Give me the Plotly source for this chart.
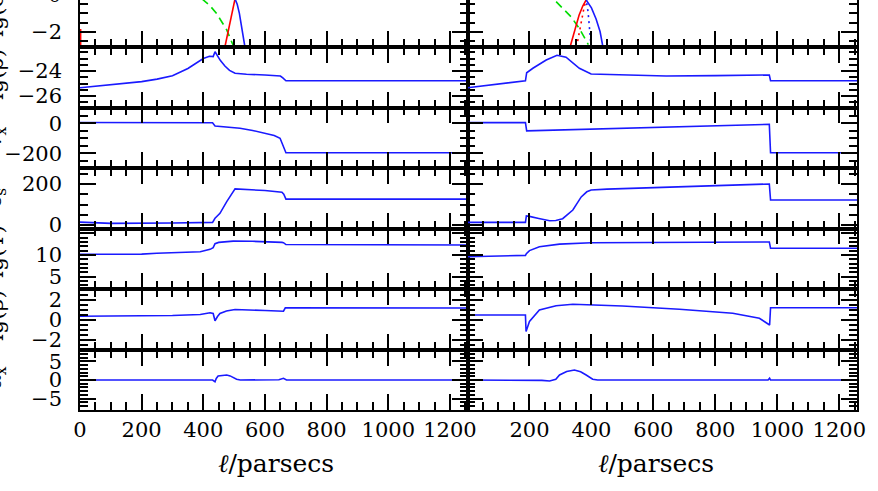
import plotly.graph_objects as go

# ---------------- data (x in parsecs) ----------------
# Left column
L_rho_x = [0, 100, 200, 250, 300, 350, 380, 400, 420, 432, 438, 446, 455, 470, 485, 503, 540, 600, 650, 658, 668, 1257]
L_rho_y = [-25.34, -25.1, -24.85, -24.65, -24.38, -23.8, -23.35, -23.0, -22.82, -22.85, -22.46, -22.8, -23.15, -23.6, -23.95, -24.18, -24.26, -24.32, -24.4, -24.55, -24.78, -24.78]

L_vx_x = [0, 430, 438, 519, 560, 605, 630, 649, 660, 668, 1257]
L_vx_y = [5, 3, -18, -33, -48, -67, -82, -100, -156, -196, -196]

L_cs_x = [0, 50, 100, 300, 430, 438, 454, 476, 503, 600, 655, 661, 668, 1257]
L_cs_y = [14, 10, 8, 10, 13, 33, 57, 114, 176, 168, 160, 150, 126, 126]

L_T_x = [0, 200, 249, 390, 422, 432, 438, 450, 497, 560, 655, 660, 668, 1257]
L_T_y = [10.16, 10.2, 10.4, 10.76, 11.3, 11.7, 12.6, 12.9, 13.2, 13.15, 12.9, 12.84, 12.4, 12.3]

L_B_x = [0, 300, 390, 422, 432, 438, 446, 454, 475, 503, 600, 660, 666, 1257]
L_B_y = [0.38, 0.45, 0.55, 0.72, 0.65, -0.08, 0.35, 0.65, 0.9, 1.05, 0.95, 0.88, 1.22, 1.2]

L_ax_x = [0, 430, 438, 442, 448, 476, 487, 500, 508, 520, 645, 660, 670, 1257]
L_ax_y = [0, 0, -0.45, 0.4, 1.07, 1.34, 1.1, 0.6, 0.2, 0.0, 0.05, 0.45, 0.0, 0.0]

L_top_green_x = [395, 420, 443, 476, 497]
L_top_green_y = [-0.2, -0.55, -1.0, -1.9, -2.75]
L_top_red_x = [470, 486, 503]
L_top_red_y = [-2.83, -1.5, -0.2]
L_top_red0_x = [2, 2]
L_top_red0_y = [-2.83, -1.85]
L_top_blue_x = [500, 510, 517, 526, 533, 535]
L_top_blue_y = [-0.1, -0.5, -1.0, -1.9, -2.7, -2.83]

# Right column
R_rho_x = [0, 100, 187, 191, 211, 254, 289, 318, 361, 399, 500, 641, 800, 974, 978, 1257]
R_rho_y = [-25.34, -25.05, -24.78, -24.14, -23.78, -23.12, -22.74, -22.9, -23.78, -24.24, -24.3, -24.4, -24.37, -24.32, -24.78, -24.78]

R_vx_x = [0, 187, 191, 400, 600, 800, 974, 978, 1257]
R_vx_y = [4, 4, -51, -40, -29, -18, -7, -196, -196]

R_cs_x = [0, 187, 190, 200, 230, 265, 285, 307, 340, 367, 385, 399, 450, 600, 800, 974, 978, 1257]
R_cs_y = [13, 13, 44, 42, 32, 21, 22, 31, 73, 137, 162, 171, 175, 183, 193, 200, 122, 122]

R_T_x = [0, 187, 190, 200, 232, 297, 399, 700, 974, 978, 1257]
R_T_y = [9.6, 9.9, 10.3, 11.0, 11.9, 12.5, 12.8, 12.9, 13.0, 11.55, 11.55]

R_B_x = [0, 187, 189, 200, 232, 286, 340, 399, 500, 684, 856, 942, 969, 975, 978, 1257]
R_B_y = [0.5, 0.5, -1.15, -0.15, 1.0, 1.43, 1.57, 1.5, 1.4, 1.07, 0.67, 0.17, -0.4, -0.5, 1.23, 1.23]

R_ax_x = [0, 200, 211, 240, 265, 285, 297, 320, 345, 365, 383, 404, 420, 970, 975, 978, 1257]
R_ax_y = [0, 0, 0.1, -0.1, -0.27, 0.2, 1.34, 2.3, 2.68, 2.2, 1.34, 0.2, 0.0, 0.0, 0.5, 0.0, 0.0]

R_top_green_x = [286, 310, 334, 360, 383, 390]
R_top_green_y = [-0.36, -0.75, -1.18, -1.8, -2.45, -2.7]
R_top_red_x = [331, 345, 360, 372, 385]
R_top_red_y = [-2.83, -2.0, -1.1, -0.6, -0.2]
R_top_reddot_x = [352, 362, 377, 386]
R_top_reddot_y = [-2.83, -1.9, -0.6, -0.2]
R_top_bluedot_x = [399, 395, 389, 383]
R_top_bluedot_y = [-2.83, -1.9, -0.9, -0.3]
R_top_blue_x = [383, 400, 415, 428, 437]
R_top_blue_y = [-0.27, -0.7, -1.3, -2.0, -2.83]

x_tick_vals = [0, 200, 400, 600, 800, 1000, 1200]
x_tick_text_left = ["0", "200", "400", "600", "800", "1000", "1200"]
x_tick_text_right = ["", "200", "400", "600", "800", "1000", "1200"]

row_labels = ["lg(e)", "lg(ρ)", "v<sub>x</sub>", "c<sub>s</sub>", "lg(T)", "lg(β)", "α<sub>x</sub>"]
y_tick_vals = [[-2], [-26, -24], [-200, 0], [0, 200], [5, 10, 15], [-2, 0, 2], [-5, 0, 5]]
y_tick_text = [["−2"], ["−26", "−24"], ["−200", "0"], ["0", "200"], ["5", "10", " "], ["−2", "0", "2"], ["−5", "0", "5"]]
y_minor = [0.5, 0.5, 50, 50, 1, 0.5, 1]

# ---------------- layout geometry ----------------
W, H = 878, 491
ML, MR, MT, MB = 80, 21, 0, 81
PW, PH = W - ML - MR, H - MT - MB
row_edges_px = [0, 47, 107.5, 168, 228.5, 289, 350, 410]
col_split_px = 467.5
y_ranges = [[-2.83, -0.27], [-26.92, -22.08], [-298, 105], [-17, 278], [2.16, 16.1], [-3.0, 3.1], [-8.04, 8.04]]
x_range = [0, 1257]

def yfrac(px):
    return (PH - px) / PH

col_dom = [[0.0, (col_split_px - ML) / PW], [(col_split_px - ML) / PW, 1.0]]

BLUE = "#1a1aff"
RED = "#ff0000"
GREEN = "#00dd00"
FONT = "DejaVu Serif"

fig = go.Figure()

series = {
    (0, 1): [(L_rho_x, L_rho_y)], (1, 1): [(R_rho_x, R_rho_y)],
    (0, 2): [(L_vx_x, L_vx_y)], (1, 2): [(R_vx_x, R_vx_y)],
    (0, 3): [(L_cs_x, L_cs_y)], (1, 3): [(R_cs_x, R_cs_y)],
    (0, 4): [(L_T_x, L_T_y)], (1, 4): [(R_T_x, R_T_y)],
    (0, 5): [(L_B_x, L_B_y)], (1, 5): [(R_B_x, R_B_y)],
    (0, 6): [(L_ax_x, L_ax_y)], (1, 6): [(R_ax_x, R_ax_y)],
}

def axn(row, col):
    return row * 2 + col + 1

def add(row, col, x, y, color, dash="solid", width=1.6):
    n = axn(row, col)
    fig.add_trace(go.Scatter(x=x, y=y, mode="lines",
                             line=dict(color=color, width=width, dash=dash),
                             xaxis="x" + ("" if n == 1 else str(n)),
                             yaxis="y" + ("" if n == 1 else str(n)),
                             showlegend=False, hoverinfo="skip", cliponaxis=True))

for (col, row), lst in series.items():
    for x, y in lst:
        add(row, col, x, y, BLUE)

# top row lines
add(0, 0, L_top_green_x, L_top_green_y, GREEN, dash="8px,5px")
add(0, 0, L_top_red_x, L_top_red_y, RED)
add(0, 0, L_top_red0_x, L_top_red0_y, RED)
add(0, 0, L_top_blue_x, L_top_blue_y, BLUE)
add(0, 1, R_top_green_x, R_top_green_y, GREEN, dash="8px,5px")
add(0, 1, R_top_red_x, R_top_red_y, RED)
add(0, 1, R_top_reddot_x, R_top_reddot_y, RED, dash="2px,4px")
add(0, 1, R_top_bluedot_x, R_top_bluedot_y, BLUE, dash="2px,4px")
add(0, 1, R_top_blue_x, R_top_blue_y, BLUE)

layout = dict(width=W, height=H, margin=dict(l=ML, r=MR, t=MT, b=MB, autoexpand=False),
              paper_bgcolor="white", plot_bgcolor="white", showlegend=False,
              font=dict(family=FONT, size=21, color="black"))

for row in range(7):
    for col in range(2):
        n = axn(row, col)
        xs = "xaxis" + ("" if n == 1 else str(n))
        ys = "yaxis" + ("" if n == 1 else str(n))
        bottom = row == 6
        layout[xs] = dict(
            domain=col_dom[col], anchor="y" + ("" if n == 1 else str(n)),
            range=x_range, showgrid=False, zeroline=False, automargin=False,
            showline=True, linecolor="black", linewidth=1.6,
            mirror=("allticks" if row > 0 else False),
            ticks="inside", ticklen=16, tickwidth=1.5, tickcolor="black",
            tickmode="array", tickvals=x_tick_vals,
            ticktext=(x_tick_text_left if col == 0 else x_tick_text_right),
            showticklabels=bottom, ticklabelstandoff=0,
            tickfont=dict(family=FONT, size=21),
            minor=dict(dtick=50, tick0=0, ticks="inside", ticklen=8, tickwidth=1.5, tickcolor="black"),
        )
        layout[ys] = dict(
            domain=[yfrac(row_edges_px[row + 1]), yfrac(row_edges_px[row])],
            anchor="x" + ("" if n == 1 else str(n)),
            range=y_ranges[row], showgrid=False, zeroline=False, automargin=False,
            showline=True, linecolor="black", linewidth=1.6, mirror="allticks",
            ticks="inside", ticklen=16, tickwidth=1.5, tickcolor="black",
            tickmode="array", tickvals=y_tick_vals[row], ticktext=y_tick_text[row],
            showticklabels=(col == 0), ticklabelstandoff=12,
            tickfont=dict(family=FONT, size=21),
            minor=dict(dtick=y_minor[row], tick0=0, ticks="inside", ticklen=8, tickwidth=1.5, tickcolor="black"),
        )

annotations = []
# cut-off "0" label of the top row
annotations.append(dict(text="0", xref="paper", yref="paper", x=(63 - ML) / PW, y=yfrac(-5),
                        xanchor="right", yanchor="middle", showarrow=False,
                        font=dict(family=FONT, size=21)))
# row labels (mostly cut off at the left edge)
label_centers = [12, 75, 138, 198, 252, 316, 378]
for lab, cy in zip(row_labels, label_centers):
    annotations.append(dict(text=lab, xref="paper", yref="paper", x=(-5 - ML) / PW, y=yfrac(cy),
                            xanchor="center", yanchor="middle", textangle=-90, showarrow=False,
                            font=dict(family=FONT, size=22)))
# x titles
for cx in [(ML + col_split_px) / 2 + 2, (col_split_px + W - MR) / 2 - 6]:
    annotations.append(dict(text="<i>ℓ</i>/parsecs", xref="paper", yref="paper",
                            x=(cx - ML) / PW, y=yfrac(463), xanchor="center", yanchor="middle",
                            showarrow=False, font=dict(family=FONT, size=25)))
layout["annotations"] = annotations

fig.update_layout(**layout)
fig.write_html("out.html", config={"displayModeBar": False},
               post_script="document.body.style.margin='0';document.body.style.overflow='hidden';")
